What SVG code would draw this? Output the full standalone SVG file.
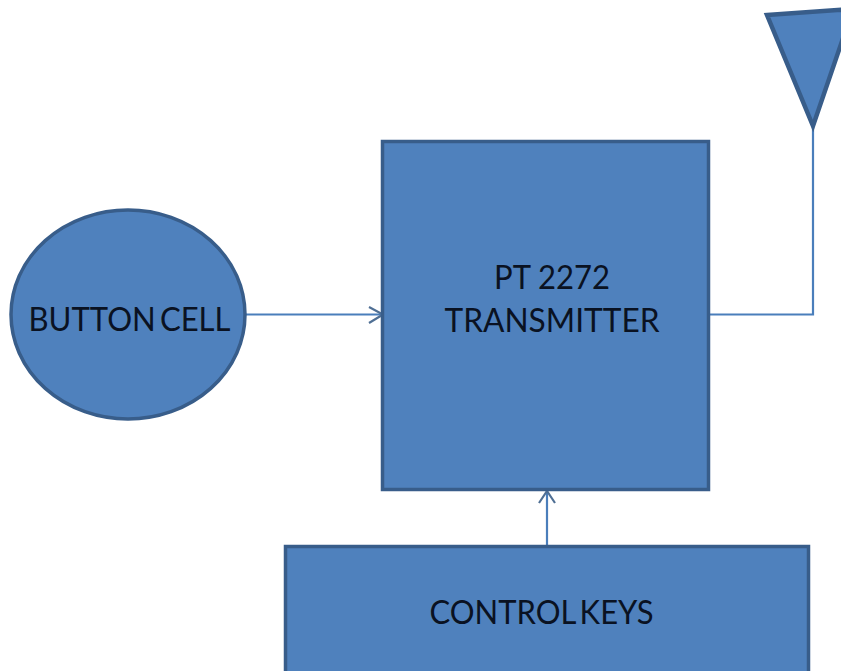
<svg xmlns="http://www.w3.org/2000/svg" width="841" height="671" viewBox="0 0 841 671">
<defs>
<style>
.s{fill:#4f81bd;stroke:#385d8a;stroke-width:3.500}
.t{stroke-width:4.500}
.c{fill:none;stroke:#4a7ebb;stroke-width:2.200}
.h{fill:none;stroke:#4f6f94;stroke-width:2.200}
text{font-family:"Lato","Liberation Sans",sans-serif;font-size:32.500px;fill:#0a1222;text-anchor:middle;word-spacing:-4px}
</style>
</defs>
<rect width="841" height="671" fill="#fff"/>
<g id="connectors">
<path class="c" d="M246 314.500H382"/>
<path class="h" d="M369 307L383 314.500L369 323"/>
<path class="c" d="M709 314.500H813V127"/>
<path class="c" d="M547 545V491"/>
<path class="h" d="M539 503L547 491L555 503"/>
</g>
<g id="antenna"><path class="s t" d="M767 15L853 9L813 126Z"/></g>
<g id="button-cell"><ellipse class="s" cx="128" cy="314.500" rx="117" ry="104.500"/><text x="129.500" y="331" textLength="202" lengthAdjust="spacingAndGlyphs">BUTTON CELL</text></g>
<g id="transmitter"><rect class="s" x="382.500" y="141.500" width="326" height="348"/><text x="552" y="288.500" textLength="116" lengthAdjust="spacingAndGlyphs" style="word-spacing:0">PT 2272</text><text x="552" y="331.500" textLength="215" lengthAdjust="spacingAndGlyphs">TRANSMITTER</text></g>
<g id="control-keys"><rect class="s" x="285.500" y="546.500" width="523" height="130"/><text x="541.500" y="623.500" textLength="224" lengthAdjust="spacingAndGlyphs">CONTROL KEYS</text></g>
</svg>
